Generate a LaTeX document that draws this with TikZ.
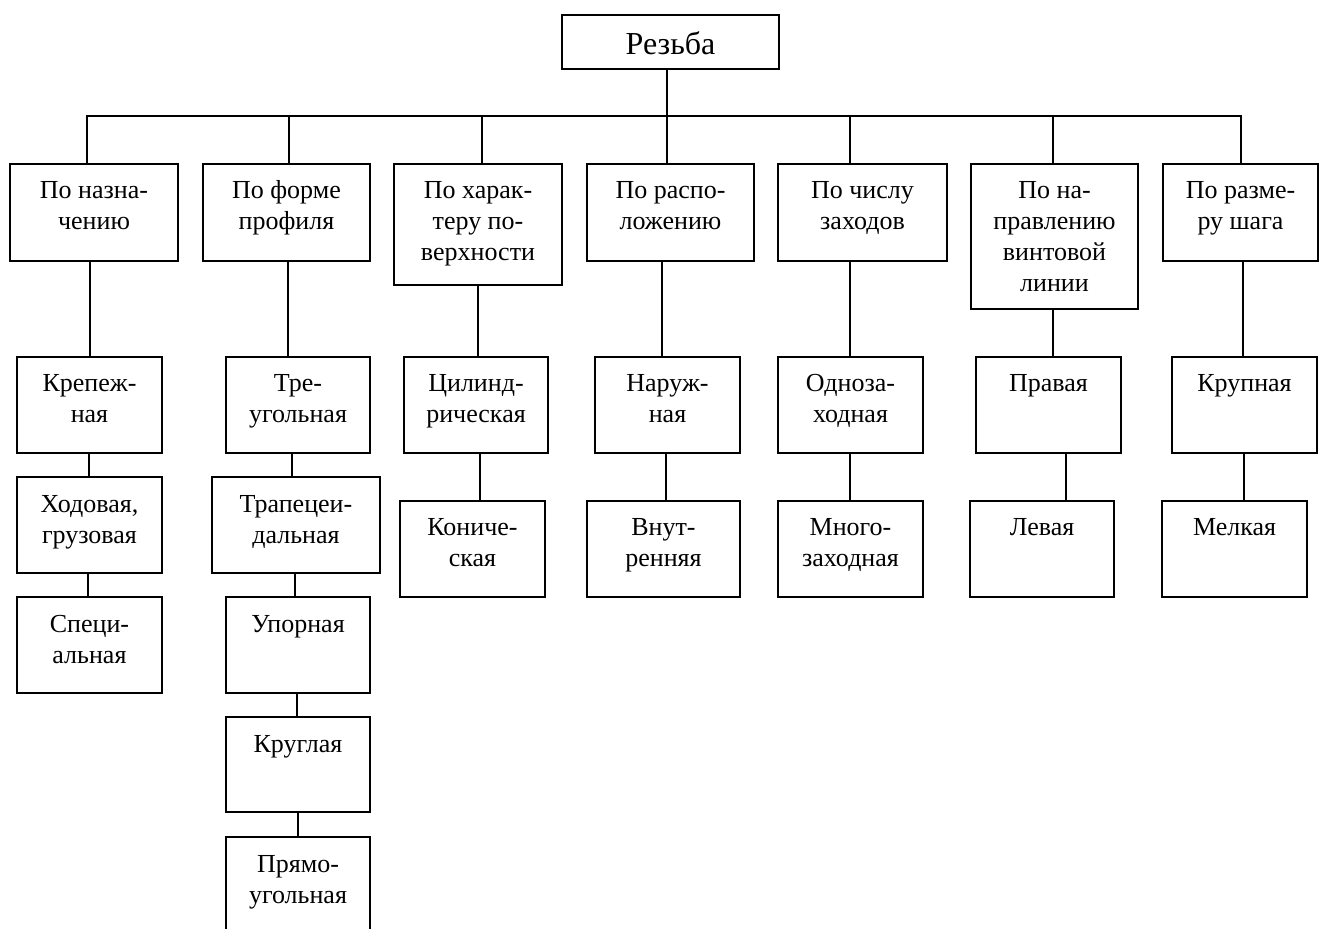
\documentclass[tikz,border=0pt]{standalone}
\usepackage{fontspec}
\setmainfont{Liberation Serif}
\newdimen\pxu \pxu=0.5pt
\tikzset{
  box/.style={draw, line width=1pt, inner sep=0pt, outer sep=0pt, anchor=north west,
              font=\fontsize{13}{15.5}\selectfont},
  con/.style={line width=1pt}
}
\newcommand{\bx}[6]{\node[box] (#1) at (#2,#3) {\parbox[t][\numexpr#5-#3\relax\pxu][t]{\numexpr#4-#2\relax\pxu}{\centering\rule{0pt}{17.5pt}#6}};}
\newcommand{\vc}[3]{\draw[con] (#1.south -| #3,0) -- (#2.north -| #3,0);}
\begin{document}
\begin{tikzpicture}[x=0.5pt,y=-0.5pt]
\clip (0,0) rectangle (1320,929);
\fill[white] (0,0) rectangle (1320,929);
% root
\node[box, font=\fontsize{16}{19}\selectfont] (r) at (562,15)
  {\parbox[t][\numexpr69-15\relax\pxu][t]{\numexpr779-562\relax\pxu}{\centering\rule{0pt}{20pt}Резьба}};
% row 1
\bx{b1}{10}{164}{178}{261}{По назна-\\чению}
\bx{b2}{203}{164}{370}{261}{По форме\\профиля}
\bx{b3}{394}{164}{562}{285}{По харак-\\теру по-\\верхности}
\bx{b4}{587}{164}{754}{261}{По распо-\\ложению}
\bx{b5}{778}{164}{947}{261}{По числу\\заходов}
\bx{b6}{971}{164}{1138}{309}{По на-\\правлению\\винтовой\\линии}
\bx{b7}{1163}{164}{1318}{261}{По разме-\\ру шага}
% column 1
\bx{c1a}{17}{357}{162}{453}{Крепеж-\\ная}
\bx{c1b}{17}{477}{162}{573}{Ходовая,\\грузовая}
\bx{c1c}{17}{597}{162}{693}{Специ-\\альная}
% column 2
\bx{c2a}{226}{357}{370}{453}{Тре-\\угольная}
\bx{c2b}{212}{477}{380}{573}{Трапецеи-\\дальная}
\bx{c2c}{226}{597}{370}{693}{Упорная}
\bx{c2d}{226}{717}{370}{812}{Круглая}
\bx{c2e}{226}{837}{370}{933}{Прямо-\\угольная}
% column 3
\bx{c3a}{404}{357}{548}{453}{Цилинд-\\рическая}
\bx{c3b}{400}{501}{545}{597}{Кониче-\\ская}
% column 4
\bx{c4a}{595}{357}{740}{453}{Наруж-\\ная}
\bx{c4b}{587}{501}{740}{597}{Внут-\\ренняя}
% column 5
\bx{c5a}{778}{357}{923}{453}{Одноза-\\ходная}
\bx{c5b}{778}{501}{923}{597}{Много-\\заходная}
% column 6
\bx{c6a}{976}{357}{1121}{453}{Правая}
\bx{c6b}{970}{501}{1114}{597}{Левая}
% column 7
\bx{c7a}{1172}{357}{1317}{453}{Крупная}
\bx{c7b}{1162}{501}{1307}{597}{Мелкая}
% bus
\coordinate (bus) at (0,116);
\draw[con] (r.south -| 667,0) -- (bus -| 667,0);
\draw[con] (b1.north -| 87,0) -- (bus -| 87,0) -- (bus -| 1241,0) -- (b7.north -| 1241,0);
\draw[con] (b2.north -| 289,0) -- (bus -| 289,0);
\draw[con] (b3.north -| 482,0) -- (bus -| 482,0);
\draw[con] (b4.north -| 667,0) -- (bus -| 667,0);
\draw[con] (b5.north -| 850,0) -- (bus -| 850,0);
\draw[con] (b6.north -| 1053,0) -- (bus -| 1053,0);
% vertical connectors
\vc{b1}{c1a}{90}
\vc{c1a}{c1b}{89}
\vc{c1b}{c1c}{88}
\vc{b2}{c2a}{288}
\vc{c2a}{c2b}{292}
\vc{c2b}{c2c}{295}
\vc{c2c}{c2d}{297}
\vc{c2d}{c2e}{298}
\vc{b3}{c3a}{478}
\vc{c3a}{c3b}{480}
\vc{b4}{c4a}{662}
\vc{c4a}{c4b}{666}
\vc{b5}{c5a}{850}
\vc{c5a}{c5b}{850}
\vc{b6}{c6a}{1053}
\vc{c6a}{c6b}{1066}
\vc{b7}{c7a}{1243}
\vc{c7a}{c7b}{1244}
\end{tikzpicture}
\end{document}
